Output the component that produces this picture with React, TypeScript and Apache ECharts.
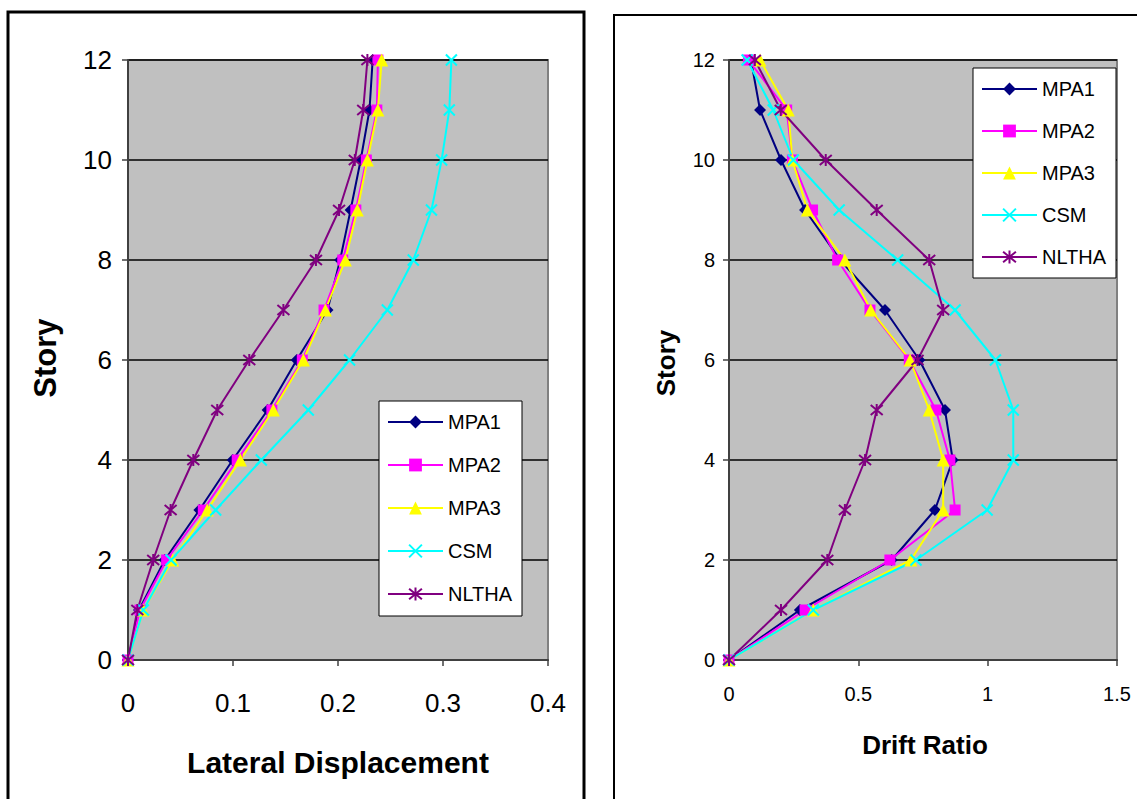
import React, { useEffect, useRef } from "react";
import * as echarts from "echarts";

const stories = [0, 1, 2, 3, 4, 5, 6, 7, 8, 9, 10, 11, 12];
const seriesNames = ["MPA1", "MPA2", "MPA3", "CSM", "NLTHA"];

// Lateral displacement (left chart), story 0..12
const dispMPA1 = [0, 0.0105, 0.035, 0.068, 0.0997, 0.133, 0.1607, 0.19, 0.202, 0.212, 0.2216, 0.23, 0.233];
const dispMPA2 = [0, 0.0114, 0.0368, 0.0717, 0.104, 0.137, 0.166, 0.1867, 0.2045, 0.217, 0.227, 0.237, 0.238];
const dispMPA3 = [0, 0.0146, 0.0425, 0.0755, 0.107, 0.1384, 0.167, 0.188, 0.207, 0.2184, 0.228, 0.238, 0.2416];
const dispCSM = [0, 0.0146, 0.041, 0.0835, 0.127, 0.1717, 0.211, 0.247, 0.2717, 0.289, 0.2987, 0.306, 0.308];
const dispNLTHA = [0, 0.0089, 0.024, 0.0406, 0.0622, 0.085, 0.1155, 0.148, 0.179, 0.201, 0.216, 0.224, 0.228];

// Drift ratio (right chart), story 0..12
const driftMPA1 = [0, 0.274, 0.629, 0.796, 0.865, 0.835, 0.736, 0.603, 0.43, 0.294, 0.201, 0.12, 0.085];
const driftMPA2 = [0, 0.294, 0.622, 0.874, 0.854, 0.8, 0.697, 0.545, 0.42, 0.323, 0.245, 0.223, 0.075];
const driftMPA3 = [0, 0.326, 0.703, 0.828, 0.828, 0.774, 0.7, 0.548, 0.448, 0.303, 0.245, 0.229, 0.12];
const driftCSM = [0, 0.326, 0.723, 0.998, 1.099, 1.099, 1.03, 0.874, 0.652, 0.426, 0.249, 0.171, 0.07];
const driftNLTHA = [0, 0.201, 0.38, 0.448, 0.526, 0.571, 0.729, 0.828, 0.774, 0.571, 0.374, 0.2, 0.1];

const leftXTicks = [0, 0.1, 0.2, 0.3, 0.4];
const rightXTicks = [0, 0.5, 1, 1.5];
const storyTicks = [0, 2, 4, 6, 8, 10, 12];

const FONT = "'Liberation Sans', Arial, sans-serif";

const styles: Record<string, any> = {
  MPA1: { color: "#000080", symbol: "diamond", size: 12 },
  MPA2: { color: "#ff00ff", symbol: "rect", size: 11 },
  MPA3: { color: "#ffff00", symbol: "triangle", size: 13 },
  CSM: { color: "#00ffff", symbol: "path://M0 0L10 10M10 0L0 10", size: 11, stroke: true },
  NLTHA: { color: "#800080", symbol: "path://M0 0L10 10M10 0L0 10M5 -1L5 11", size: 12, stroke: true },
};

function makeSeries(name: string, xs: number[], idx: number) {
  const s = styles[name];
  return {
    type: "line",
    name,
    xAxisIndex: idx,
    yAxisIndex: idx,
    data: xs.map((v, i) => [v, stories[i]]),
    symbol: s.symbol,
    symbolSize: s.size,
    showSymbol: true,
    showAllSymbol: true,
    clip: false,
    color: s.color,
    lineStyle: { color: s.color, width: 2 },
    itemStyle: s.stroke
      ? { color: s.color, borderColor: s.color, borderWidth: 2 }
      : { color: s.color, borderWidth: 0 },
  };
}

function axisCommon(fontSize: number, margin: number) {
  return {
    axisLine: { show: true, onZero: false, lineStyle: { color: "#404040", width: 2 } },
    axisTick: { show: true, inside: false, length: 6, lineStyle: { color: "#404040", width: 1.5 } },
    axisLabel: { color: "#000", fontSize, fontFamily: FONT, margin },
  };
}

export default function App() {
  const ref = useRef<HTMLDivElement>(null);
  useEffect(() => {
    if (!ref.current) return;
    const chart = echarts.init(ref.current, undefined, { renderer: "svg" });
    const leftData = [dispMPA1, dispMPA2, dispMPA3, dispCSM, dispNLTHA];
    const rightData = [driftMPA1, driftMPA2, driftMPA3, driftCSM, driftNLTHA];
    const option: any = {
      animation: false,
      backgroundColor: "#ffffff",
      grid: [
        { left: 128, top: 60, width: 420, height: 600, show: true, backgroundColor: "#c0c0c0", borderColor: "#808080", borderWidth: 2 },
        { left: 729, top: 60, width: 388, height: 600, show: true, backgroundColor: "#c0c0c0", borderColor: "#808080", borderWidth: 2 },
      ],
      xAxis: [
        {
          type: "value", gridIndex: 0, min: leftXTicks[0], max: leftXTicks[leftXTicks.length - 1], interval: 0.1,
          splitLine: { show: false }, ...axisCommon(26, 30),
          axisLabel: { color: "#000", fontSize: 26, fontFamily: FONT, margin: 30, formatter: (v: number) => String(Math.round(v * 10) / 10) },
        },
        {
          type: "value", gridIndex: 1, min: rightXTicks[0], max: rightXTicks[rightXTicks.length - 1], interval: 0.5,
          splitLine: { show: false }, ...axisCommon(20, 24),
        },
      ],
      yAxis: [
        {
          type: "value", gridIndex: 0, min: storyTicks[0], max: storyTicks[storyTicks.length - 1], interval: 2,
          splitLine: { show: true, lineStyle: { color: "#000", width: 1.5 } }, ...axisCommon(26, 16),
        },
        {
          type: "value", gridIndex: 1, min: storyTicks[0], max: storyTicks[storyTicks.length - 1], interval: 2,
          splitLine: { show: true, lineStyle: { color: "#000", width: 1.5 } }, ...axisCommon(20, 14),
        },
      ],
      legend: [
        {
          orient: "vertical", left: 387, top: 412, padding: 0, itemWidth: 55, itemHeight: 16, itemGap: 23,
          data: seriesNames, z: 20,
          textStyle: { color: "#000", fontSize: 20, fontFamily: FONT },
        },
        {
          orient: "vertical", left: 981, top: 79, padding: 0, itemWidth: 55, itemHeight: 16, itemGap: 22,
          data: seriesNames, z: 20,
          textStyle: { color: "#000", fontSize: 20, fontFamily: FONT },
        },
      ],
      graphic: [
        { type: "rect", shape: { x: 8, y: 12, width: 576, height: 820 }, style: { fill: "none", stroke: "#000", lineWidth: 3 }, z: 1 },
        { type: "rect", shape: { x: 614, y: 15, width: 600, height: 820 }, style: { fill: "none", stroke: "#000", lineWidth: 2 }, z: 1 },
        { type: "rect", shape: { x: 379, y: 401, width: 143, height: 215 }, style: { fill: "#fff", stroke: "#000", lineWidth: 1 }, z: 10 },
        { type: "rect", shape: { x: 973, y: 68, width: 143, height: 210 }, style: { fill: "#fff", stroke: "#000", lineWidth: 1 }, z: 10 },
        { type: "text", x: 338, y: 762, style: { text: "Lateral Displacement", font: `bold 30px ${FONT}`, fill: "#000", align: "center", verticalAlign: "middle" }, z: 10 },
        { type: "text", x: 45, y: 358, rotation: Math.PI / 2, style: { text: "Story", font: `bold 31px ${FONT}`, fill: "#000", align: "center", verticalAlign: "middle" }, z: 10 },
        { type: "text", x: 925, y: 745, style: { text: "Drift Ratio", font: `bold 26px ${FONT}`, fill: "#000", align: "center", verticalAlign: "middle" }, z: 10 },
        { type: "text", x: 666, y: 363, rotation: Math.PI / 2, style: { text: "Story", font: `bold 26px ${FONT}`, fill: "#000", align: "center", verticalAlign: "middle" }, z: 10 },
      ],
      series: [
        ...seriesNames.map((n, i) => makeSeries(n, leftData[i], 0)),
        ...seriesNames.map((n, i) => makeSeries(n, rightData[i], 1)),
      ],
    };
    chart.setOption(option);
    return () => chart.dispose();
  }, []);
  return <div ref={ref} style={{ position: "absolute", left: 0, top: 0, width: 1137, height: 799 }} />;
}
